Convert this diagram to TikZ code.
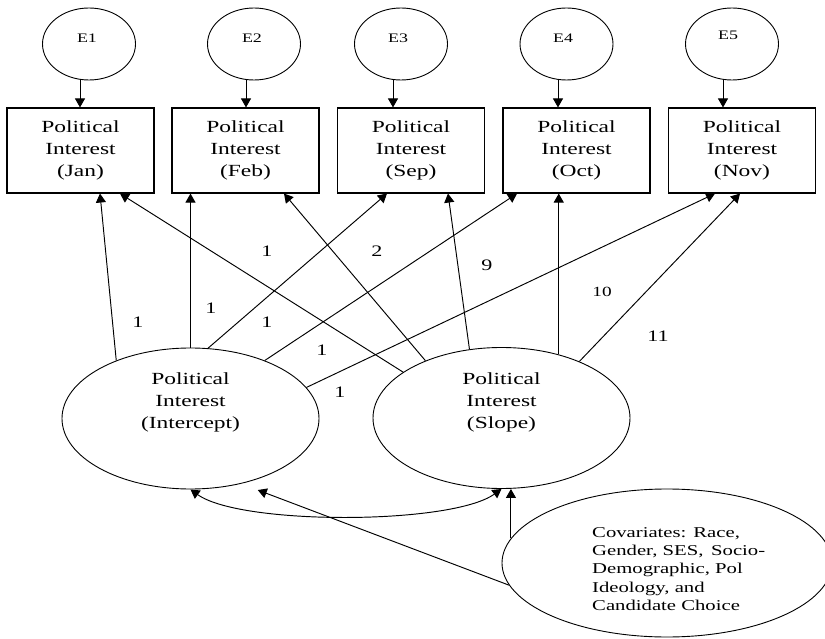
\documentclass[tikz,border=0pt]{standalone}
\usepackage{fontspec}
\setmainfont{Liberation Serif}[FakeStretch=1.38]
\usetikzlibrary{shapes.geometric,arrows.meta}
\begin{document}
\begin{tikzpicture}[x=1pt,y=-1pt,
  obs/.style={draw, line width=1.1pt, minimum width=147pt, minimum height=85pt, inner sep=0pt, align=center, font=\fontsize{17}{22}\selectfont},
  err/.style={draw, ellipse, line width=0.9pt, minimum width=93pt, minimum height=72pt, inner sep=0pt},
  lat/.style={draw, ellipse, line width=0.9pt, minimum width=257pt, minimum height=141pt, inner sep=0pt},
  cov/.style={draw, ellipse, line width=0.9pt, minimum width=330pt, minimum height=148pt, inner sep=0pt},
  etxt/.style={inner sep=0pt, font=\fontsize{13}{15}\selectfont},
  ltxt/.style={inner sep=0pt, align=center, font=\fontsize{17}{22}\selectfont},
  ctxt/.style={inner sep=0pt, align=left, anchor=west, font=\fontsize{15}{18.2}\selectfont},
  lab/.style={inner sep=0pt, font=\fontsize{16}{18}\selectfont},
  arr/.style={-{Triangle[length=9pt,width=10pt]}, line width=0.95pt},
  darr/.style={{Triangle[length=9pt,width=10pt]}-{Triangle[length=9pt,width=10pt]}, line width=0.95pt}
]
\useasboundingbox (0,0) rectangle (825,639);

% error terms
\node[err] (E1) at (89,44) {};
\node[err] (E2) at (254,44) {};
\node[err] (E3) at (401,44) {};
\node[err] (E4) at (566.5,44) {};
\node[err] (E5) at (732,44) {};
\node[etxt] (tE1) at (87,38) {E1};
\node[etxt] (tE2) at (252,38) {E2};
\node[etxt] (tE3) at (398,38) {E3};
\node[etxt] (tE4) at (563,38) {E4};
\node[etxt] (tE5) at (728,35) {E5};

% observed boxes
\node[obs] (J1) at (80.5,150.5) {Political\\Interest\\(Jan)};
\node[obs] (J2) at (245.5,150.5) {Political\\Interest\\(Feb)};
\node[obs] (J3) at (411,150.5) {Political\\Interest\\(Sep)};
\node[obs] (J4) at (576.5,150.5) {Political\\Interest\\(Oct)};
\node[obs] (J5) at (742,150.5) {Political\\Interest\\(Nov)};

\draw[arr] (E1.south -| 80,0) -- (J1.north -| 80,0);
\draw[arr] (E2.south -| 246,0) -- (J2.north -| 246,0);
\draw[arr] (E3.south -| 393,0) -- (J3.north -| 393,0);
\draw[arr] (E4.south -| 558,0) -- (J4.north -| 558,0);
\draw[arr] (E5.south -| 723,0) -- (J5.north -| 723,0);

% latent factors
\node[lat] (I) at (190.5,418.5) {};
\node[lat] (S) at (501.5,418) {};
\node[ltxt] (tI) at (190.5,402) {Political\\Interest\\(Intercept)};
\node[ltxt] (tS) at (501.5,402) {Political\\Interest\\(Slope)};

% covariates
\node[cov] (C) at (667,563) {};
\node[ctxt] (tC) at (592,569) {Covariates: Race,\\Gender, SES,\, Socio-\\Demographic, Pol\\Ideology, and\\Candidate Choice};

% loadings from intercept
\draw[arr] (I.142.4) -- (J1.south -| 100,0);
\draw[arr] (I.north) -- (I.north |- J2.south);
\draw[arr] (I.76) -- (J3.south -| 387,0);
\draw[arr] (I.38) -- (J4.south -| 517,0);
\draw[arr] (I.15) -- (J5.south -| 715,0);

% loadings from slope
\draw[arr] (S.155) -- (J1.south -| 120,0);
\draw[arr] (S.143.1) -- (J2.south -| 284,0);
\draw[arr] (S.115.9) -- (J3.south -| 448,0);
\draw[arr] (S.48.6) -- (S.48.6 |- J4.south);
\draw[arr] (S.36.2) -- (J5.south -| 740,0);

% loading labels
\node[lab] (l1) at (138,322) {1};
\node[lab] (l2) at (211,308) {1};
\node[lab] (l3) at (267,322) {1};
\node[lab] (l4) at (322,350) {1};
\node[lab] (l5) at (340,392) {1};
\node[lab] (l6) at (267,251) {1};
\node[lab] (l7) at (377,251) {2};
\node[lab] (l8) at (487,265) {9};
\node[lab,font=\fontsize{14}{16}\selectfont] (l9) at (602,292) {10};
\node[lab] (l10) at (658,336) {11};

% covariance and covariates
\draw[darr] (I.south) .. controls +(50,36) and +(-50,36) .. (S.south);
\draw[arr] (C.188.2) -- ([yshift=-11pt]I.-42.2);
\draw[arr] (C.171.2) -- (C.171.2 |- S.south);
\end{tikzpicture}
\end{document}
